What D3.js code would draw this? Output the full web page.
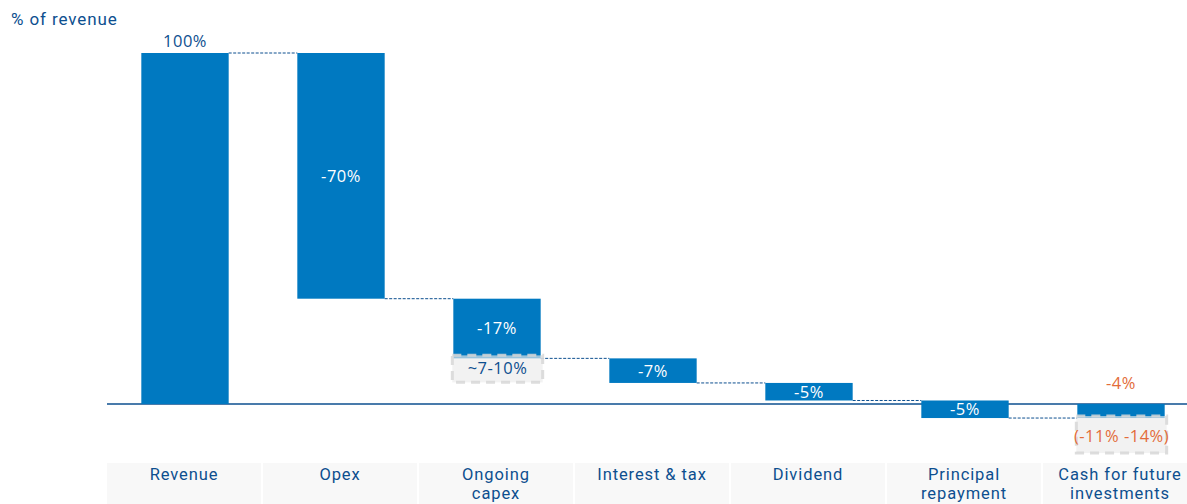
<!DOCTYPE html>
<html>
<head>
<meta charset="utf-8">
<script src="https://cdn.jsdelivr.net/npm/d3@7"></script>
<style>
  html, body { margin: 0; padding: 0; background: #fff; }
  svg { display: block; }
</style>
</head>
<body>
<svg id="chart" width="1187" height="504"></svg>
<script>
// Cash waterfall, % of revenue
const categories = ["Revenue", "Opex", "Ongoing\ncapex", "Interest & tax", "Dividend", "Principal\nrepayment", "Cash for future\ninvestments"];
const deltas = [100, -70, -17, -7, -5, -5];
const valueLabels = ["100%", "-70%", "-17%", "-7%", "-5%", "-5%", "-4%"];
const rangeLabels = [{ index: 2, text: "~7-10%" }, { index: 6, text: "(-11% -14%)" }];
const yTicks = [0, 100];

const W = 1187, H = 504;
const svg = d3.select("#chart");

const x = d3.scaleBand().domain(categories).range([107, 107 + 156 * categories.length]).paddingInner(0.44).paddingOuter(0.22);
const band = d3.scaleBand().domain(categories).range([107, 107 + 156 * categories.length]);
const y = d3.scaleLinear().domain([0, 100]).range([404, 53]);

// running totals -> bar extents
const steps = [];
let run = 0;
deltas.forEach((d, i) => {
  const start = run; run += d;
  steps.push({ cat: categories[i], from: start, to: run, label: valueLabels[i] });
});
// closing bar: remaining cash against zero
steps.push({ cat: categories[6], from: 0, to: run, label: valueLabels[6], total: true });

const blue = "#0079c1", navy = "#0d4f8f", orange = "#e36c3a";
const cf = "Roboto, 'Liberation Sans', sans-serif";
const lf = "'Open Sans', 'Noto Sans', sans-serif";

// category cells
const cells = svg.append("g");
categories.forEach(c => {
  cells.append("rect").attr("x", band(c)).attr("y", 463).attr("width", band.bandwidth() - 2).attr("height", 41).attr("fill", "#f8f8f8");
  const lines = c.split("\n");
  const t = cells.append("text").attr("text-anchor", "middle").attr("fill", navy)
    .attr("font-family", cf).attr("font-size", 16.5).attr("letter-spacing", 0.9);
  lines.forEach((l, k) => t.append("tspan").attr("x", band(c) + band.bandwidth() / 2 - 1).attr("y", 480 + k * 19).text(l));
});

// baseline
svg.append("line").attr("x1", 107).attr("x2", W).attr("y1", y(yTicks[0])).attr("y2", y(yTicks[0]))
  .attr("stroke", navy).attr("stroke-width", 1.5);

// connectors
for (let i = 0; i < steps.length - 1; i++) {
  const s = steps[i], n = steps[i + 1];
  const level = s.to;
  svg.append("line")
    .attr("x1", x(s.cat) + x.bandwidth()).attr("x2", x(n.cat))
    .attr("y1", y(level)).attr("y2", y(level))
    .attr("stroke", navy).attr("stroke-width", 1).attr("stroke-dasharray", "3,1.5");
}

// bars
svg.append("g").selectAll("rect").data(steps).join("rect")
  .attr("x", d => x(d.cat))
  .attr("width", x.bandwidth())
  .attr("y", d => y(Math.max(d.from, d.to)))
  .attr("height", d => Math.abs(y(d.from) - y(d.to)))
  .attr("fill", blue);

// value labels
const fs = 16.5, ls = 0.5;
steps.forEach((d, i) => {
  const cx = x(d.cat) + x.bandwidth() / 2;
  if (i === 0) {
    svg.append("text").attr("x", cx).attr("y", y(d.to) - 6).attr("text-anchor", "middle")
      .attr("fill", navy).attr("font-family", lf).attr("font-size", fs).attr("letter-spacing", ls).text(d.label);
  } else if (d.total) {
    svg.append("text").attr("x", cx).attr("y", y(d.from) - 15).attr("text-anchor", "middle")
      .attr("fill", orange).attr("font-family", lf).attr("font-size", fs).attr("letter-spacing", ls).text(d.label);
  } else {
    const mid = (y(d.from) + y(d.to)) / 2;
    svg.append("text").attr("x", cx).attr("y", mid).attr("dy", "0.36em").attr("text-anchor", "middle")
      .attr("fill", "#fff").attr("font-family", lf).attr("font-size", fs).attr("letter-spacing", ls).text(d.label);
  }
});

// range boxes
rangeLabels.forEach(r => {
  const s = steps[r.index];
  const left = x(s.cat) - 1, w = x.bandwidth() + 3;
  const top = r.index === 6 ? y(s.to) - 2 : y(s.to) - 3;
  const h = r.index === 6 ? 37 : 27;
  svg.append("rect").attr("x", left).attr("y", top).attr("width", w).attr("height", h)
    .attr("fill", "rgba(235,235,235,0.65)").attr("stroke", "rgba(215,215,215,0.85)")
    .attr("stroke-width", 3).attr("stroke-dasharray", "9,6");
  svg.append("text").attr("x", left + w / 2).attr("y", top + (r.index === 6 ? 20 : 13)).attr("dy", "0.36em")
    .attr("text-anchor", "middle").attr("fill", r.index === 6 ? orange : navy)
    .attr("font-family", lf).attr("font-size", fs).attr("letter-spacing", ls).text(r.text);
});

// axis title
svg.append("text").attr("x", 11).attr("y", 25).attr("fill", navy)
  .attr("font-family", cf).attr("font-size", 17).attr("letter-spacing", 0.9).text("% of revenue");
</script>
</body>
</html>
